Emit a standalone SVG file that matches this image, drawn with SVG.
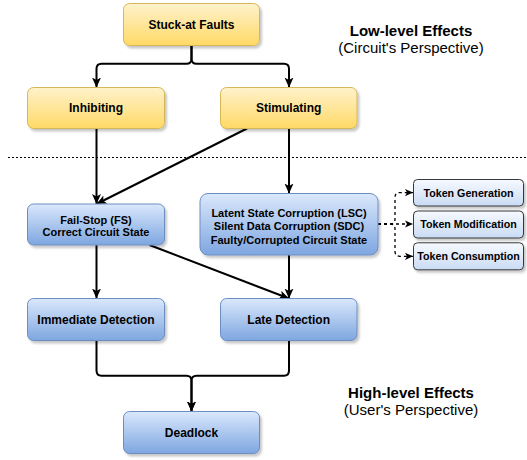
<svg xmlns="http://www.w3.org/2000/svg" width="527" height="460" viewBox="0 0 527 460">
<defs>
<linearGradient id="gY" x1="0" y1="0" x2="0" y2="1"><stop offset="0" stop-color="#fff2cc"/><stop offset="1" stop-color="#ffd966"/></linearGradient>
<linearGradient id="gB" x1="0" y1="0" x2="0" y2="1"><stop offset="0" stop-color="#dae8fc"/><stop offset="1" stop-color="#7ea6e0"/></linearGradient>
<linearGradient id="gT" x1="0" y1="0" x2="0" y2="1"><stop offset="0" stop-color="#f7faff"/><stop offset="1" stop-color="#c9dbf4"/></linearGradient>
<filter id="sh" x="-10%" y="-10%" width="130%" height="140%"><feDropShadow dx="2" dy="2.5" stdDeviation="1" flood-color="#000" flood-opacity="0.22"/></filter>
<marker id="ar" markerUnits="userSpaceOnUse" markerWidth="10" markerHeight="10" viewBox="0 0 10 10" refX="10" refY="5" orient="auto"><path d="M0,0.5 L10,5 L0,9.5 L2.5,5 z" fill="#000"/></marker>
<marker id="ars" markerUnits="userSpaceOnUse" markerWidth="8" markerHeight="8" viewBox="0 0 10 10" refX="10" refY="5" orient="auto"><path d="M0,0.5 L10,5 L0,9.5 L2.5,5 z" fill="#000"/></marker>
</defs>
<style>
.y{fill:url(#gY);stroke:#d6b656;stroke-width:1;filter:url(#sh)}
.b{fill:url(#gB);stroke:#6c8ebf;stroke-width:1;filter:url(#sh)}
.t{fill:url(#gT);stroke:#36393d;stroke-width:1;filter:url(#sh)}
.l{font-family:"Liberation Sans",Arial,sans-serif;font-size:12px;font-weight:bold;fill:#000;text-anchor:middle}
.m{font-family:"Liberation Sans",Arial,sans-serif;font-size:11px;font-weight:bold;fill:#000;text-anchor:middle}
.s{font-family:"Liberation Sans",Arial,sans-serif;font-size:10.7px;font-weight:bold;fill:#000;text-anchor:middle}
.h{font-family:"Liberation Sans",Arial,sans-serif;font-size:15px;fill:#000;text-anchor:middle}
.c{fill:none;stroke:#000;stroke-width:2;marker-end:url(#ar)}
.d{fill:none;stroke:#000;stroke-width:1.3;stroke-dasharray:3 3;marker-end:url(#ars)}
</style>
<line x1="8" y1="157.5" x2="527" y2="157.5" stroke="#000" stroke-width="1" stroke-dasharray="2 2"/>
<text class="h" x="411" y="35.5" font-weight="bold">Low-level Effects</text>
<text class="h" x="411" y="53">(Circuit's Perspective)</text>
<text class="h" x="411" y="397.5" font-weight="bold">High-level Effects</text>
<text class="h" x="411" y="415">(User's Perspective)</text>
<g id="connectors">
<path class="c" d="M191.5,45.5 V58.5 Q191.5,63.8 186.5,63.8 H101.5 Q96.5,63.8 96.5,68.8 V87.5"/>
<path class="c" d="M191.5,45.5 V58.5 Q191.5,63.8 196.5,63.8 H284 Q289,63.8 289,68.8 V87.5"/>
<path class="c" d="M96.5,128.5 V204"/>
<path class="c" d="M247,128.5 L96.5,204"/>
<path class="c" d="M289,128.5 V193.5"/>
<path class="c" d="M96.5,245 V298.5"/>
<path class="c" d="M149.5,245 L289,298.5"/>
<path class="c" d="M289,255 V298.5"/>
<path class="c" d="M96.5,340.5 V370.5 Q96.5,375.7 101.5,375.7 H186.5 Q191.5,375.7 191.5,380.7 V411.5"/>
<path class="c" d="M289,340.5 V370.5 Q289,375.7 284,375.7 H196.5 Q191.5,375.7 191.5,380.7 V411.5"/>
<path class="d" d="M378,224 H413"/>
<path class="d" d="M378,224 H390 Q395,224 395,219 V197.6 Q395,192.6 400,192.6 H413"/>
<path class="d" d="M378,224 H390 Q395,224 395,229 V251.3 Q395,256.3 400,256.3 H413"/>
</g>
<g id="stuck"><rect class="y" x="123.5" y="3.5" width="136" height="42" rx="6"/><text class="l" x="191.5" y="28.5">Stuck-at Faults</text></g>
<g id="inhibiting"><rect class="y" x="27.5" y="87.5" width="137" height="41" rx="6"/><text class="l" x="96" y="112">Inhibiting</text></g>
<g id="stimulating"><rect class="y" x="220.5" y="87.5" width="136.5" height="41" rx="6"/><text class="l" x="288.7" y="112">Stimulating</text></g>
<g id="fs"><rect class="b" x="27.5" y="204" width="137" height="41" rx="6"/><text class="m" x="96" y="223.5">Fail-Stop (FS)</text><text class="m" x="96" y="236">Correct Circuit State</text></g>
<g id="lsc"><rect class="b" x="200" y="193.5" width="178" height="61.5" rx="8"/><text class="m" x="289" y="217.3">Latent State Corruption (LSC)</text><text class="m" x="289" y="230.4">Silent Data Corruption (SDC)</text><text class="m" x="289" y="243.5">Faulty/Corrupted Circuit State</text></g>
<g id="tgen"><rect class="t" x="413.5" y="179.5" width="110" height="26.5" rx="4"/><text class="s" x="468.5" y="196.5">Token Generation</text></g>
<g id="tmod"><rect class="t" x="413.5" y="211" width="110" height="27" rx="4"/><text class="s" x="468.5" y="228.3">Token Modification</text></g>
<g id="tcons"><rect class="t" x="413.5" y="242.8" width="110" height="27" rx="4"/><text class="s" x="468.5" y="260.2">Token Consumption</text></g>
<g id="immediate"><rect class="b" x="27.5" y="298.5" width="137" height="42" rx="6"/><text class="l" x="96" y="323.5">Immediate Detection</text></g>
<g id="late"><rect class="b" x="220.5" y="298.5" width="136.5" height="42" rx="6"/><text class="l" x="288.7" y="323.5">Late Detection</text></g>
<g id="deadlock"><rect class="b" x="123.5" y="411.5" width="136" height="42" rx="6"/><text class="l" x="191.5" y="436.5">Deadlock</text></g>
</svg>
